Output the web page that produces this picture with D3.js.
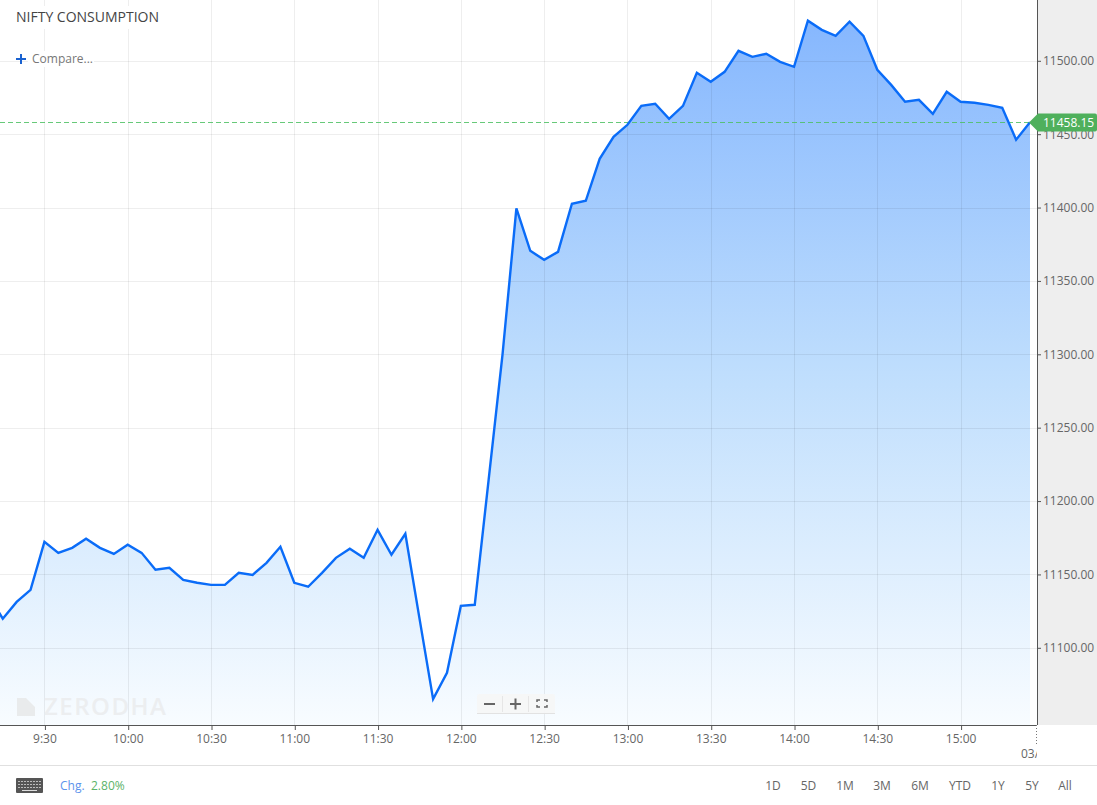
<!DOCTYPE html>
<html>
<head>
<meta charset="utf-8">
<script src="https://cdnjs.cloudflare.com/ajax/libs/d3/7.8.5/d3.min.js"></script>
<style>
  html, body { margin: 0; padding: 0; background: #fff; overflow: hidden; }
  text { font-family: "Open Sans", sans-serif; }
  .axis path, .axis line { stroke: #555; }
  .axis text { fill: #666; font-size: 12px; font-family: "Open Sans", sans-serif; }
</style>
</head>
<body>
<div id="chart"></div>
<script>
var times = ["9:10","9:15","9:20","9:25","9:30","9:35","9:40","9:45","9:50","9:55",
  "10:00","10:05","10:10","10:15","10:20","10:25","10:30","10:35","10:40","10:45","10:50","10:55",
  "11:00","11:05","11:10","11:15","11:20","11:25","11:30","11:35","11:40","11:45","11:50","11:55",
  "12:00","12:05","12:10","12:15","12:20","12:25","12:30","12:35","12:40","12:45","12:50","12:55",
  "13:00","13:05","13:10","13:15","13:20","13:25","13:30","13:35","13:40","13:45","13:50","13:55",
  "14:00","14:05","14:10","14:15","14:20","14:25","14:30","14:35","14:40","14:45","14:50","14:55",
  "15:00","15:05","15:10","15:15","15:20","15:25"];
var prices = [11135.4,11119.8,11131.3,11139.5,11172.2,11164.7,11168.1,11174.3,11168.1,11164.0,
  11170.2,11164.7,11153.2,11154.5,11146.3,11144.3,11142.9,11142.9,11151.1,11149.7,11157.9,11168.8,
  11144.3,11141.6,11151.1,11161.3,11167.5,11161.3,11180.4,11163.4,11177.7,11121.1,11065.0,11083.0,
  11128.6,11129.3,11214.5,11299.7,11399.5,11370.5,11364.4,11369.8,11402.6,11404.6,11433.2,11448.2,
  11456.4,11469.3,11470.7,11460.5,11469.3,11491.8,11485.7,11492.5,11506.8,11502.7,11504.8,11499.3,
  11495.9,11527.3,11521.1,11517.0,11526.6,11517.0,11493.9,11483.6,11472.1,11473.4,11463.9,11478.9,
  11472.1,11471.4,11470.0,11468.0,11446.2,11458.15];
var timeTicks = ["9:30","10:00","10:30","11:00","11:30","12:00","12:30","13:00","13:30","14:00","14:30","15:00"];
var priceTicks = [11500,11450,11400,11350,11300,11250,11200,11150,11100];
var lastPrice = 11458.15;
var rangeLabels = ["1D","5D","1M","3M","6M","YTD","1Y","5Y","All"];
var rangeX = [773,808.5,845,882,920,960,998,1032,1065];

var canvasWidth = 1097, canvasHeight = 805;
var plotRight = 1037, plotBottom = 725;

var data = times.map(function(t, i) { return {time: t, price: prices[i]}; });

var xScale = d3.scalePoint().domain(times).range([-11.1, 1030]);
var yScale = d3.scaleLinear().domain([11500, 11100]).range([60.8, 647.8]);

var svg = d3.select("#chart").append("svg")
    .attr("width", canvasWidth)
    .attr("height", canvasHeight)
    .style("display", "block");

var defs = svg.append("defs");
defs.append("clipPath").attr("id", "plotClip").append("rect")
    .attr("x", 0).attr("y", 0).attr("width", plotRight).attr("height", plotBottom);
defs.append("clipPath").attr("id", "dateClip").append("rect")
    .attr("x", 1000).attr("y", 745).attr("width", plotRight - 1000).attr("height", 18);
var grad = defs.append("linearGradient").attr("id", "mountain")
    .attr("x1", 0).attr("y1", 0).attr("x2", 0).attr("y2", 1);
grad.append("stop").attr("offset", "0%").attr("stop-color", "#86b7fe");
grad.append("stop").attr("offset", "50%").attr("stop-color", "#bfdefd");
grad.append("stop").attr("offset", "100%").attr("stop-color", "#f8fcff");

// right hand price panel
svg.append("rect")
    .attr("x", plotRight).attr("y", 0)
    .attr("width", canvasWidth - plotRight).attr("height", plotBottom)
    .attr("fill", "#eeeeee");

var plot = svg.append("g").attr("clip-path", "url(#plotClip)");

var area = d3.area()
    .x(function(d) { return xScale(d.time); })
    .y0(plotBottom)
    .y1(function(d) { return yScale(d.price); });

var line = d3.line()
    .x(function(d) { return xScale(d.time); })
    .y(function(d) { return yScale(d.price); });

plot.append("path").datum(data)
    .attr("fill", "url(#mountain)")
    .attr("d", area);

// grid goes over the fill, it shows through a little darker
plot.selectAll(".hgrid").data(priceTicks).enter().append("line")
    .attr("x1", 0).attr("x2", plotRight)
    .attr("y1", function(d) { return Math.round(yScale(d)) + 0.5; })
    .attr("y2", function(d) { return Math.round(yScale(d)) + 0.5; })
    .attr("stroke", "#000").attr("stroke-opacity", 0.065);
plot.selectAll(".vgrid").data(timeTicks).enter().append("line")
    .attr("x1", function(d) { return Math.round(xScale(d)) + 0.5; })
    .attr("x2", function(d) { return Math.round(xScale(d)) + 0.5; })
    .attr("y1", 0).attr("y2", plotBottom)
    .attr("stroke", "#000").attr("stroke-opacity", 0.065);

// last price line, snapped to the pixel grid so the dashes stay crisp
var tagY = Math.round(yScale(lastPrice)) + 0.5;
plot.append("line")
    .attr("x1", 0).attr("x2", 1030)
    .attr("y1", tagY).attr("y2", tagY)
    .attr("stroke", "#4cbf62").attr("stroke-opacity", 0.85)
    .attr("stroke-dasharray", "5,3");

plot.append("path").datum(data)
    .attr("fill", "none")
    .attr("stroke", "#0a6cf8")
    .attr("stroke-width", 2.4)
    .attr("stroke-linejoin", "miter")
    .attr("d", line);

// watermark
var mark = svg.append("g");
mark.append("path")
    .attr("d", "M17,698H26L35,707V698V716H17Z")
    .attr("fill", "#e9ebec");
mark.append("text")
    .attr("x", 44).attr("y", 715)
    .attr("font-size", "24px").attr("font-weight", 600)
    .attr("letter-spacing", "1.5px")
    .attr("fill", "#eceef0")
    .text("ZERODHA");

// axes
var xAxis = svg.append("g").attr("class", "axis")
    .attr("transform", "translate(0," + plotBottom + ")")
    .call(d3.axisBottom(xScale).tickValues(timeTicks).tickSize(5).tickPadding(4).tickSizeOuter(0));
xAxis.select(".domain").attr("d", "M0,0.5H" + plotRight).attr("stroke", "#555").attr("fill", "none");
xAxis.selectAll(".tick line").attr("transform", "translate(0.5,0)");

var yAxis = svg.append("g").attr("class", "axis")
    .attr("transform", "translate(" + plotRight + ",0)")
    .call(d3.axisRight(yScale).tickValues(priceTicks)
        .tickFormat(function(d) { return d3.format(".2f")(d); })
        .tickSize(4).tickPadding(2).tickSizeOuter(0));
yAxis.select(".domain").attr("d", "M0.5,0V" + plotBottom);

// date stub at the end of the axis
svg.append("line")
    .attr("x1", plotRight - 0.5).attr("x2", plotRight - 0.5)
    .attr("y1", plotBottom).attr("y2", 745)
    .attr("stroke", "#777").attr("stroke-dasharray", "1,2");
svg.append("g").attr("clip-path", "url(#dateClip)").append("text")
    .attr("x", 1021).attr("y", 758)
    .attr("font-size", "12px").attr("fill", "#666")
    .text("03/27");

// last price tag
svg.append("path")
    .attr("d", "M1029," + tagY + "L1038," + (tagY - 9) + "H1095Q1097," + (tagY - 9) + " 1097," + (tagY - 7)
        + "V" + (tagY + 7) + "Q1097," + (tagY + 9) + " 1095," + (tagY + 9) + "H1038Z")
    .attr("fill", "#4fb05c");
svg.append("text")
    .attr("x", 1043).attr("y", tagY + 4.5)
    .attr("font-size", "12px").attr("fill", "#fff")
    .text(d3.format(".2f")(lastPrice));

// title block
svg.append("rect").attr("x", 10).attr("y", 6).attr("width", 155).attr("height", 23).attr("fill", "#fff");
svg.append("text")
    .attr("x", 16).attr("y", 22)
    .attr("font-size", "14px").attr("fill", "#444")
    .text("NIFTY CONSUMPTION");
svg.append("rect").attr("x", 28).attr("y", 51).attr("width", 66).attr("height", 16).attr("fill", "#fff");
svg.append("path")
    .attr("d", "M16,59H26M21,54V64")
    .attr("stroke", "#1a62d0").attr("stroke-width", 2).attr("fill", "none");
svg.append("text")
    .attr("x", 32).attr("y", 63)
    .attr("font-size", "12px").attr("fill", "#777")
    .text("Compare...");

// zoom buttons
var zoomBox = svg.append("g");
zoomBox.append("rect")
    .attr("x", 477).attr("y", 694).attr("width", 78).attr("height", 20).attr("rx", 2)
    .attr("fill", "#f6f6f6").attr("fill-opacity", 0.9);
zoomBox.append("path").attr("d", "M477,713.5H555").attr("stroke", "#e2e2e2");
zoomBox.append("path")
    .attr("d", "M502.5,696V712M528.5,696V712")
    .attr("stroke", "#e6e6e6");
zoomBox.append("path")
    .attr("d", "M484,704H495M510,704H521M515.5,698.5V709.5")
    .attr("stroke", "#666").attr("stroke-width", 2).attr("fill", "none");
zoomBox.append("path")
    .attr("d", "M537,702V700H540M544,700H547V702M547,705V707H544M540,707H537V705")
    .attr("stroke", "#666").attr("stroke-width", 1.5).attr("fill", "none");

// footer
svg.append("line")
    .attr("x1", 0).attr("x2", canvasWidth)
    .attr("y1", 765.5).attr("y2", 765.5)
    .attr("stroke", "#e0e0e0");

var keyboard = svg.append("g");
keyboard.append("rect")
    .attr("x", 16).attr("y", 778).attr("width", 27).attr("height", 15)
    .attr("rx", 1).attr("fill", "#555");
keyboard.append("path")
    .attr("d", "M18,781.5H41M18,784.5H41M18,787.5H41")
    .attr("stroke", "#bbb").attr("stroke-dasharray", "2,1");
keyboard.append("path")
    .attr("d", "M22,790.5H37")
    .attr("stroke", "#ddd");

svg.append("text")
    .attr("x", 60).attr("y", 790)
    .attr("font-size", "12px").attr("fill", "#5b93ec")
    .text("Chg.");
svg.append("text")
    .attr("x", 91).attr("y", 790)
    .attr("font-size", "12px").attr("fill", "#5cb368")
    .text("2.80%");

svg.selectAll(".range").data(rangeLabels).enter().append("text")
    .attr("class", "range")
    .attr("x", function(d, i) { return rangeX[i]; })
    .attr("y", 790)
    .attr("text-anchor", "middle")
    .attr("font-size", "12px").attr("fill", "#666")
    .text(function(d) { return d; });
</script>
</body>
</html>
